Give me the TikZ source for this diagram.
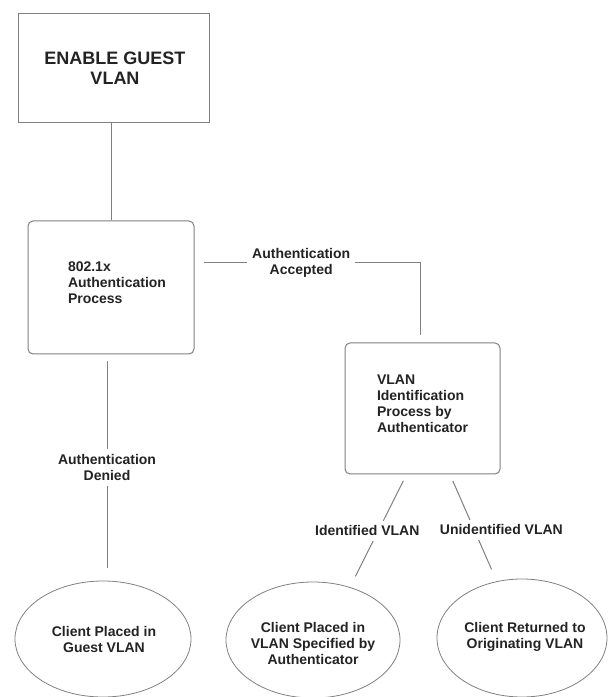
\documentclass[tikz,border=0pt]{standalone}
\usepackage{fontspec}
\setmainfont{Liberation Sans}
\definecolor{vlline}{RGB}{128,128,128}
\definecolor{vltext}{RGB}{35,35,35}
\usetikzlibrary{shapes.geometric,calc}

\begin{document}
\begin{tikzpicture}[x=1pt, y=1pt,
  box/.style={draw=vlline, line width=1pt, inner sep=0pt},
  oval/.style={ellipse, draw=vlline, line width=0.8pt, inner sep=0pt},
  txt/.style={font=\fontsize{14}{16}\selectfont\bfseries, text=vltext, align=left, inner sep=0pt},
  lbl/.style={txt, align=center, fill=white, inner sep=5pt},
  conn/.style={draw=vlline, line width=1pt}]
  \useasboundingbox (0,0) rectangle (608,697);

  % Top box
  \node[box, minimum width=191, minimum height=109] (guest) at (113.5,628.5) {};
  \node[txt, align=center, font=\fontsize{18}{20}\selectfont\bfseries] (guesttxt) at (115,629) {ENABLE GUEST\\VLAN};

  % 802.1x process
  \node[box, rounded corners=5pt, minimum width=166, minimum height=133] (auth) at (111,409.5) {};
  \node[txt] (authtxt) at (117,414) {802.1x\\Authentication\\Process};

  % VLAN identification
  \node[box, rounded corners=5pt, minimum width=155, minimum height=131] (vlanid) at (422.5,288.5) {};
  \node[txt] (vlantxt) at (422.5,293.5) {VLAN\\Identification\\Process by\\Authenticator};

  % Outcomes
  \node[oval, minimum width=176, minimum height=116] (guestvl) at (103,58) {};
  \node[txt, align=center] (guestvltxt) at (104,58) {Client Placed in\\Guest VLAN};

  \node[oval, minimum width=174, minimum height=116] (spec) at (313,57) {};
  \node[txt, align=center] (spectxt) at (313,54) {Client Placed in\\VLAN Specified by\\Authenticator};

  \node[oval, minimum width=170, minimum height=118] (orig) at (522,59) {};
  \node[txt, align=center] (origtxt) at (525,60.5) {Client Returned to\\Originating VLAN};

  % Connectors
  \draw[conn] (auth.north |- guest.south) -- (auth.north);

  \coordinate (accL) at (204,434);
  \coordinate (accR) at (420,434);
  \draw[conn, shorten >=7pt] (accL) -- node[lbl, pos=0.45] {Authentication\\Accepted} (accR) -- (accR |- vlanid.north);

  \draw[conn, shorten <=7pt, shorten >=13pt] ([xshift=-4pt]auth.south) -- node[lbl] {Authentication\\Denied} ([xshift=4pt]guestvl.north);

  \draw[conn, shorten <=7pt, shorten >=12pt] ([xshift=-16pt]vlanid.south) -- node[lbl, xshift=-11pt] {Identified VLAN} (spec.55);
  \draw[conn, shorten <=7pt, shorten >=13pt] ([xshift=27.5pt]vlanid.south) -- node[lbl, xshift=28pt, yshift=-2pt] {Unidentified VLAN} (orig.114);
\end{tikzpicture}
\end{document}
